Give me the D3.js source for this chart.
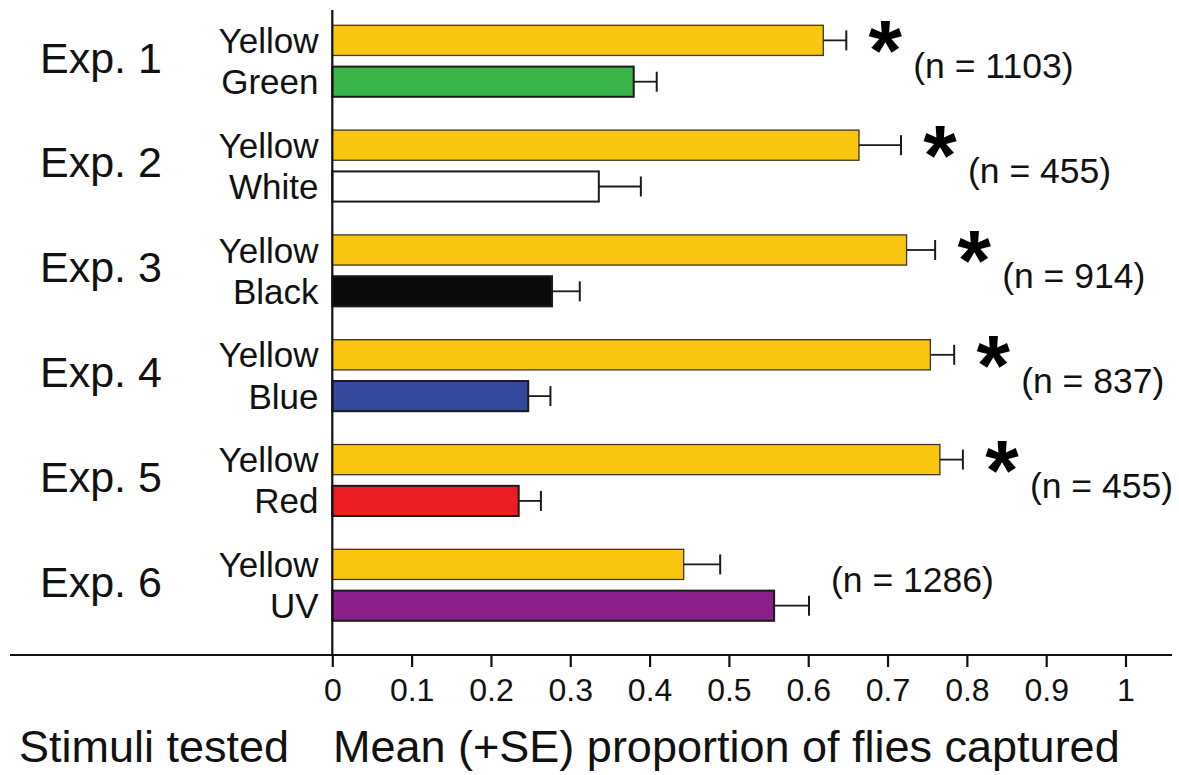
<!DOCTYPE html>
<html>
<head>
<meta charset="utf-8">
<script src="https://cdn.jsdelivr.net/npm/d3@7"></script>
<style>
  html, body { margin: 0; padding: 0; background: #fff; }
  svg { display: block; font-family: "Liberation Sans", Arial, sans-serif; }
</style>
</head>
<body>
<svg id="chart" width="1179" height="775"></svg>
<script>
// Two-choice trap experiments: yellow versus a second colour
const experiments = ["Exp. 1", "Exp. 2", "Exp. 3", "Exp. 4", "Exp. 5", "Exp. 6"];
const comparisonStimuli = ["Green", "White", "Black", "Blue", "Red", "UV"];
const yellowMean = [0.619, 0.664, 0.724, 0.754, 0.766, 0.443];
const yellowSE   = [0.029, 0.053, 0.036, 0.030, 0.029, 0.046];
const otherMean  = [0.380, 0.336, 0.277, 0.247, 0.235, 0.557];
const otherSE    = [0.029, 0.053, 0.035, 0.028, 0.028, 0.044];
const sampleSizes = [1103, 455, 914, 837, 455, 1286];
const significant = [true, true, true, true, true, false];
const tickValues = [0, 0.1, 0.2, 0.3, 0.4, 0.5, 0.6, 0.7, 0.8, 0.9, 1];
const tickLabels = ["0", "0.1", "0.2", "0.3", "0.4", "0.5", "0.6", "0.7", "0.8", "0.9", "1"];

const fillColor = {
  Yellow: "#f9c50e", Green: "#39b54a", White: "#ffffff", Black: "#0a0b0a",
  Blue: "#334a9c", Red: "#ec1d25", UV: "#8b1f8b"
};

const svg = d3.select("#chart");
const FONT = "'Liberation Sans', Arial, sans-serif";

const x = d3.scaleLinear().domain([0, 1]).range([332.3, 1125.5]);
const y = d3.scaleBand().domain(experiments)
  .range([25.3, 620.8]).paddingInner(0.318).paddingOuter(0);
const yInner = d3.scaleBand().domain(["yellow", "other"])
  .range([0, y.bandwidth()]).paddingInner(0.27).paddingOuter(0);

const rows = experiments.map((e, i) => ({
  exp: e, i,
  bars: [
    { key: "yellow", name: "Yellow", mean: yellowMean[i], se: yellowSE[i] },
    { key: "other", name: comparisonStimuli[i], mean: otherMean[i], se: otherSE[i] }
  ]
}));

const g = svg.selectAll("g.exp").data(rows).join("g")
  .attr("class", "exp")
  .attr("transform", d => `translate(0,${y(d.exp)})`);

// experiment labels
g.append("text")
  .attr("x", 40)
  .attr("y", y.bandwidth() / 2 + 11.5)
  .attr("font-size", 43)
  .attr("fill", "#111")
  .text(d => d.exp);

const bar = g.selectAll("g.bar").data(d => d.bars).join("g").attr("class", "bar");

bar.append("rect")
  .attr("x", x(0))
  .attr("y", b => yInner(b.key))
  .attr("width", b => x(b.mean) - x(0))
  .attr("height", yInner.bandwidth())
  .attr("fill", b => fillColor[b.name])
  .attr("stroke", b => b.key === "yellow" ? "#3d3520" : "#1a1a1a")
  .attr("stroke-width", b => b.key === "yellow" ? 1.3 : 2);

// error bars (+SE)
bar.append("line")
  .attr("x1", b => x(b.mean)).attr("x2", b => x(b.mean + b.se))
  .attr("y1", b => yInner(b.key) + yInner.bandwidth() / 2)
  .attr("y2", b => yInner(b.key) + yInner.bandwidth() / 2)
  .attr("stroke", "#1a1a1a").attr("stroke-width", 1.8);
bar.append("line")
  .attr("x1", b => x(b.mean + b.se)).attr("x2", b => x(b.mean + b.se))
  .attr("y1", b => yInner(b.key) + yInner.bandwidth() / 2 - 10)
  .attr("y2", b => yInner(b.key) + yInner.bandwidth() / 2 + 10)
  .attr("stroke", "#1a1a1a").attr("stroke-width", 2);

// stimulus labels
bar.append("text")
  .attr("x", 318.5)
  .attr("y", b => yInner(b.key) + yInner.bandwidth() / 2 + 12.5)
  .attr("text-anchor", "end")
  .attr("font-size", 35)
  .attr("fill", "#111")
  .text(b => b.name);

// significance asterisks
g.filter(d => significant[d.i]).append("text")
  .attr("x", d => x(yellowMean[d.i] + yellowSE[d.i]) + 39)
  .attr("y", yInner("yellow") + yInner.bandwidth() / 2 + 40)
  .attr("text-anchor", "middle")
  .attr("font-size", 86)
  .attr("font-weight", "bold")
  .attr("fill", "#000")
  .text("*");

// sample sizes
g.append("text")
  .attr("x", d => significant[d.i]
    ? x(yellowMean[d.i] + yellowSE[d.i]) + 67
    : x(Math.max(yellowMean[d.i] + yellowSE[d.i], otherMean[d.i] + otherSE[d.i])) + 22)
  .attr("y", d => significant[d.i] ? 53 : 43)
  .attr("font-size", 35.5)
  .attr("fill", "#111")
  .text(d => `(n = ${sampleSizes[d.i]})`);

// axes
const axisY = 655;
svg.append("line")
  .attr("x1", x(0)).attr("x2", x(0)).attr("y1", 10).attr("y2", axisY)
  .attr("stroke", "#111").attr("stroke-width", 2.2);
svg.append("line")
  .attr("x1", 10).attr("x2", 1172).attr("y1", axisY).attr("y2", axisY)
  .attr("stroke", "#111").attr("stroke-width", 2.2);

const xAxis = d3.axisBottom(x)
  .tickValues(tickValues)
  .tickSize(12)
  .tickPadding(11)
  .tickFormat((v, i) => tickLabels[i]);
const ax = svg.append("g").attr("transform", `translate(0,${axisY})`).call(xAxis);
ax.select(".domain").remove();
ax.selectAll(".tick line").attr("stroke", "#111").attr("stroke-width", 2.2);
ax.selectAll(".tick text")
  .attr("font-family", FONT).attr("font-size", 32).attr("fill", "#111");

// titles
svg.append("text")
  .attr("x", 19).attr("y", 762)
  .attr("font-size", 45).attr("fill", "#111")
  .text("Stimuli tested");
svg.append("text")
  .attr("x", 333).attr("y", 762)
  .attr("font-size", 45).attr("fill", "#111")
  .text("Mean (+SE) proportion of flies captured");
</script>
</body>
</html>
